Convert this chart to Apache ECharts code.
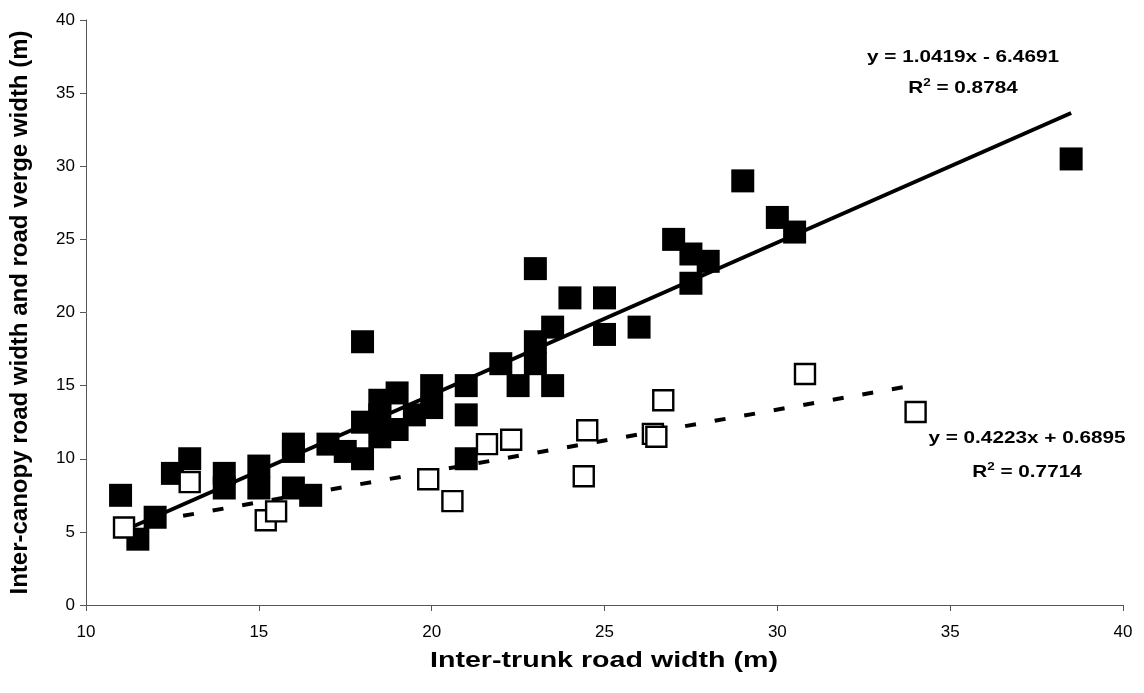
<!DOCTYPE html>
<html>
<head>
<meta charset="utf-8">
<script src="https://cdn.jsdelivr.net/npm/echarts@6/dist/echarts.min.js"></script>
<style>
  html, body { margin: 0; padding: 0; background: #fff; }
  #chart { width: 1144px; height: 693px; }
</style>
</head>
<body>
<div id="chart"></div>
<script>
// Inter-canopy width (filled) and road verge width (open) against inter-trunk road width
const canopyX = [11, 11.5, 12, 12.5, 13, 14, 14, 15, 15, 16, 16, 16, 16.5, 17, 17.5,
  18, 18, 18, 18.5, 18.5, 18.5, 19, 19, 19.5, 20, 20, 21, 21, 21, 22, 22.5,
  23, 23, 23, 23.5, 23.5, 24, 25, 25, 26, 27, 27.5, 27.5, 28, 29, 30, 30.5, 38.5];
const canopyY = [7.5, 4.5, 6, 9, 10, 9, 8, 9.5, 8, 11, 10.5, 8, 7.5, 11, 10.5,
  18, 12.5, 10, 14, 13, 11.5, 14.5, 12, 13, 15, 13.5, 15, 13, 10, 16.5, 15,
  23, 18, 16.5, 19, 15, 21, 21, 18.5, 19, 25, 24, 22, 23.5, 29, 26.5, 25.5, 30.5];

const vergeX = [11.1, 13, 15.2, 15.5, 19.9, 20.6, 21.6, 22.3, 24.4, 24.5, 26.4, 26.5, 26.7, 30.8, 34];
const vergeY = [5.3, 8.4, 5.8, 6.4, 8.6, 7.1, 11, 11.3, 8.8, 11.95, 11.7, 11.5, 14, 15.8, 13.2];

// Linear trend coefficients as printed beside each line
const canopyFit = { slope: 1.0419, intercept: -6.4691, r2: '0.8784' };
const vergeFit = { slope: 0.4223, intercept: 0.6895, r2: '0.7714' };

const xTicks = [10, 15, 20, 25, 30, 35, 40];
const yTicks = [0, 5, 10, 15, 20, 25, 30, 35, 40];

const xTitle = 'Inter-trunk road width (m)';
const yTitle = 'Inter-canopy road width and road verge width (m)';

function pairs(xs, ys) { return xs.map((x, i) => [x, ys[i]]); }
function fitLine(xs, fit) {
  const lo = Math.min(...xs), hi = Math.max(...xs);
  return [[lo, fit.slope * lo + fit.intercept], [hi, fit.slope * hi + fit.intercept]];
}
function fmt(v) { return Math.abs(v).toFixed(4); }
function eqText(fit) {
  return 'y = ' + fit.slope.toFixed(4) + 'x ' + (fit.intercept < 0 ? '- ' : '+ ') + fmt(fit.intercept);
}

const FONT = 'Liberation Sans, Arial, sans-serif';
const chart = echarts.init(document.getElementById('chart'));

const richStyle = {
  b: { fontFamily: FONT, fontWeight: 'bold', fontSize: 17, color: '#000' },
  sup: { fontFamily: FONT, fontWeight: 'bold', fontSize: 11, color: '#000', verticalAlign: 'top', padding: [0, 0, 10, 0] }
};

// Equation / R² annotations, slightly widened like the rest of the lettering
function eqLabel(x, y, text) {
  return {
    type: 'text', x: x, y: y, scaleX: 1.22, z: 10,
    style: { text: text, align: 'center', verticalAlign: 'middle', rich: richStyle,
      fontFamily: FONT, fontWeight: 'bold', fontSize: 17, fill: '#000' }
  };
}

chart.setOption({
  animation: false,
  backgroundColor: '#fff',
  grid: { left: 86, right: 21, top: 20, bottom: 88, containLabel: false },
  xAxis: {
    type: 'value', min: xTicks[0], max: xTicks[xTicks.length - 1], interval: 5,
    axisLine: { onZero: false, lineStyle: { color: '#555', width: 1 } },
    axisTick: { show: true, length: 6, inside: false, lineStyle: { color: '#555' } },
    axisLabel: { margin: 19, fontFamily: FONT, fontSize: 17, color: '#000' },
    splitLine: { show: false }
  },
  yAxis: {
    type: 'value', min: yTicks[0], max: yTicks[yTicks.length - 1], interval: 5,
    name: yTitle, nameLocation: 'middle', nameGap: 54,
    nameTextStyle: { fontFamily: FONT, fontWeight: 'bold', fontSize: 24, color: '#000' },
    axisLine: { show: true, lineStyle: { color: '#555', width: 1 } },
    axisTick: { show: true, length: 6, inside: false, lineStyle: { color: '#555' } },
    axisLabel: { margin: 11, fontFamily: FONT, fontSize: 17, color: '#000' },
    splitLine: { show: false }
  },
  series: [
    {
      name: 'canopy trend', type: 'line', data: fitLine(canopyX, canopyFit),
      symbol: 'none', silent: true, z: 2,
      lineStyle: { color: '#000', width: 4, type: 'solid' }
    },
    {
      name: 'verge trend', type: 'line', data: fitLine(vergeX, vergeFit),
      symbol: 'none', silent: true, z: 2,
      lineStyle: { color: '#000', width: 4, type: [11, 19], cap: 'butt' }
    },
    {
      name: 'Inter-canopy', type: 'scatter', data: pairs(canopyX, canopyY),
      symbol: 'rect', symbolSize: 23, z: 3,
      itemStyle: { color: '#000', borderColor: '#000', borderWidth: 0, opacity: 1 }
    },
    {
      name: 'Road verge', type: 'scatter', data: pairs(vergeX, vergeY),
      symbol: 'rect', symbolSize: 20, z: 4,
      itemStyle: { color: '#fff', borderColor: '#000', borderWidth: 2.4, opacity: 1 }
    }
  ],
  graphic: [
    {
      type: 'text', x: 604, y: 661, scaleX: 1.3, z: 10,
      style: { text: xTitle, align: 'center', verticalAlign: 'middle',
        fontFamily: FONT, fontWeight: 'bold', fontSize: 22, fill: '#000' }
    },
    eqLabel(963, 57, '{b|' + eqText(canopyFit) + '}'),
    eqLabel(963, 88, '{b|R}{sup|2}{b| = ' + canopyFit.r2 + '}'),
    eqLabel(1027, 438, '{b|' + eqText(vergeFit) + '}'),
    eqLabel(1027, 472, '{b|R}{sup|2}{b| = ' + vergeFit.r2 + '}')
  ]
});
</script>
</body>
</html>
